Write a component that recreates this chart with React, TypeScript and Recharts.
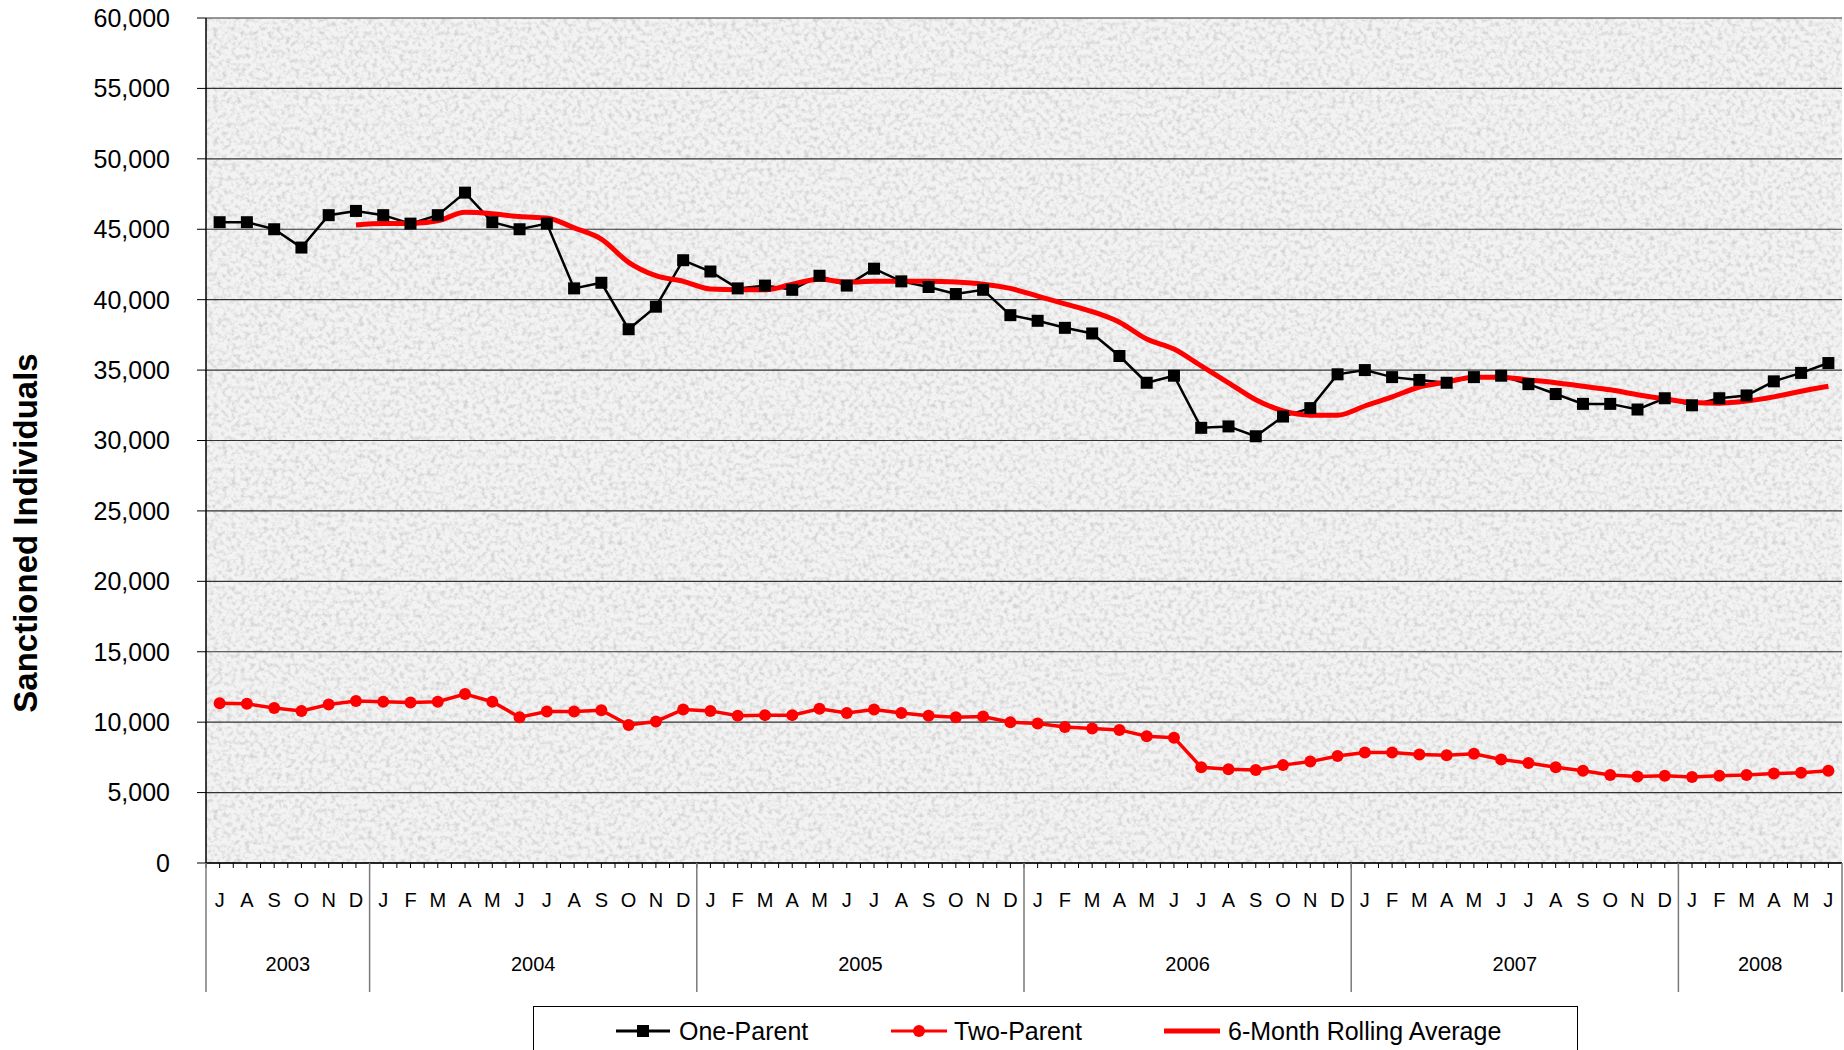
import { CartesianGrid, Line, LineChart, XAxis, YAxis } from "recharts";

const FONT = '"Liberation Sans", Arial, sans-serif';

const CHART_W = 1844;
const CHART_H = 1050;
const PLOT_LEFT = 206;
const PLOT_RIGHT = 1842;
const PLOT_TOP = 18;
const PLOT_BOTTOM = 863;
const BAND = (PLOT_RIGHT - PLOT_LEFT) / 60;

// months run July 2003 .. June 2008
const MONTH_LETTERS = ["J", "F", "M", "A", "M", "J", "J", "A", "S", "O", "N", "D"];
const FIRST_YEAR = 2003;
const FIRST_MONTH = 6;
const MONTH_COUNT = 60;

const Y_TICKS = [0, 5000, 10000, 15000, 20000, 25000, 30000, 35000, 40000, 45000, 50000, 55000, 60000];

const ONE_PARENT = [
  45500, 45500, 45000, 43700, 46000, 46300,
  46000, 45400, 46000, 47600, 45500, 45000, 45400, 40800, 41200, 37900, 39500, 42800,
  42000, 40800, 41000, 40700, 41700, 41000, 42200, 41300, 40900, 40400, 40700, 38900,
  38500, 38000, 37600, 36000, 34100, 34600, 30900, 31000, 30300, 31700, 32300, 34700,
  35000, 34500, 34300, 34100, 34500, 34600, 34000, 33300, 32600, 32600, 32200, 33000,
  32500, 33000, 33200, 34200, 34800, 35500,
];

const TWO_PARENT = [
  11350, 11300, 11000, 10800, 11250, 11500,
  11450, 11400, 11450, 12000, 11450, 10350, 10750, 10750, 10850, 9800, 10050, 10900,
  10800, 10450, 10500, 10500, 10950, 10650, 10900, 10650, 10450, 10350, 10400, 10000,
  9900, 9650, 9550, 9450, 9000, 8900, 6800, 6650, 6600, 6950, 7200, 7600,
  7850, 7850, 7700, 7650, 7750, 7350, 7100, 6800, 6550, 6250, 6150, 6200,
  6100, 6200, 6250, 6350, 6400, 6550,
];

const ROLLING_AVG = [
  null, null, null, null, null, 45300,
  45400, 45400, 45600, 46200, 46100, 45900, 45800, 45100, 44300, 42650, 41700, 41300,
  40750, 40700, 40700, 41100, 41450, 41250, 41300, 41300, 41300, 41250, 41100, 40800,
  40250, 39700, 39150, 38400, 37200, 36500, 35300, 34100, 32900, 32100, 31800, 31800,
  32450, 33100, 33800, 34150, 34500, 34500, 34300, 34100, 33850, 33600, 33250, 32950,
  32700, 32650, 32800, 33100, 33500, 33850,
];

const categories = Array.from({ length: MONTH_COUNT }, (_, i) => {
  const abs = FIRST_MONTH + i;
  return { year: FIRST_YEAR + Math.floor(abs / 12), month: abs % 12 };
});

const data = categories.map((c, i) => ({
  key: `${c.year}-${c.month + 1}`,
  onePar: ONE_PARENT[i],
  twoPar: TWO_PARENT[i],
  avg: ROLLING_AVG[i],
}));

// year label sits on the left edge of the month at the middle of its run
const yearLabelAt: Record<number, number> = {};
for (const y of Array.from(new Set(categories.map((c) => c.year)))) {
  const idx = categories.map((c, i) => (c.year === y ? i : -1)).filter((i) => i >= 0);
  yearLabelAt[idx[0] + idx.length / 2] = y;
}

function MonthTick(props: any) {
  const { x, payload } = props;
  const i: number = payload.index ?? props.index;
  const c = categories[i];
  const left = x - BAND / 2;
  const right = x + BAND / 2;
  const last = i === MONTH_COUNT - 1;
  return (
    <g>
      <line x1={left} x2={left} y1={PLOT_BOTTOM} y2={PLOT_BOTTOM + 5} stroke="#000" />
      <line x1={x} x2={x} y1={PLOT_BOTTOM} y2={PLOT_BOTTOM + 5} stroke="#000" />
      {(i === 0 || c.month === 0) && (
        <line x1={left} x2={left} y1={PLOT_BOTTOM} y2={992} stroke="#7a7a7a" strokeWidth={1.5} />
      )}
      {last && <line x1={right} x2={right} y1={PLOT_BOTTOM} y2={992} stroke="#7a7a7a" strokeWidth={1.5} />}
      <text x={x} y={900} textAnchor="middle" dominantBaseline="central" fontSize={20} fontFamily={FONT} fill="#000">
        {MONTH_LETTERS[c.month]}
      </text>
      {yearLabelAt[i] !== undefined && (
        <text x={left} y={964} textAnchor="middle" dominantBaseline="central" fontSize={20} fontFamily={FONT} fill="#000">
          {yearLabelAt[i]}
        </text>
      )}
    </g>
  );
}

function SquareDot(props: any) {
  const { cx, cy, index } = props;
  if (cx == null || cy == null) return <g key={index} />;
  return <rect key={index} x={cx - 6} y={cy - 6} width={12} height={12} fill="#000" />;
}

function Legend() {
  const midY = 25;
  return (
    <div
      style={{
        position: "absolute",
        left: 533,
        top: 1006,
        width: 1045,
        height: 70,
        border: "1px solid #000",
        background: "#fff",
        boxSizing: "border-box",
      }}
    >
      <svg width={1045} height={70} style={{ position: "absolute", left: -1, top: -1 }}>
        <line x1={83} x2={137} y1={midY} y2={midY} stroke="#000" strokeWidth={3} />
        <rect x={104} y={midY - 6} width={12} height={12} fill="#000" />
        <text x={146} y={midY} dominantBaseline="central" fontSize={25} fontFamily={FONT} fill="#000">
          One-Parent
        </text>
        <line x1={358} x2={414} y1={midY} y2={midY} stroke="#ff0000" strokeWidth={3} />
        <circle cx={386} cy={midY} r={6} fill="#ff0000" />
        <text x={421} y={midY} dominantBaseline="central" fontSize={25} fontFamily={FONT} fill="#000">
          Two-Parent
        </text>
        <line x1={631} x2={687} y1={midY} y2={midY} stroke="#ff0000" strokeWidth={5} />
        <text x={695} y={midY} dominantBaseline="central" fontSize={25} fontFamily={FONT} fill="#000">
          6-Month Rolling Average
        </text>
      </svg>
    </div>
  );
}

export default function App() {
  return (
    <div
      style={{
        position: "absolute",
        left: 0,
        top: 0,
        width: CHART_W,
        height: CHART_H,
        overflow: "hidden",
        background: "#fff",
        fontFamily: FONT,
      }}
    >
      <svg width={0} height={0} style={{ position: "absolute" }}>
        <defs>
          <filter id="grain" x="0" y="0" width="100%" height="100%">
            <feTurbulence type="fractalNoise" baseFrequency="0.22" numOctaves={3} seed={7} />
            <feColorMatrix
              type="matrix"
              values="0 0 0 0 0.45  0 0 0 0 0.45  0 0 0 0 0.45  2.4 0 0 0 -1.05"
            />
          </filter>
          <pattern id="paper" patternUnits="userSpaceOnUse" width={CHART_W} height={CHART_H}>
            <rect width={CHART_W} height={CHART_H} fill="#f3f3f3" />
            <rect width={CHART_W} height={CHART_H} fill="#fff" filter="url(#grain)" opacity={0.55} />
          </pattern>
        </defs>
      </svg>

      <LineChart width={CHART_W} height={CHART_H} data={data} margin={{ top: PLOT_TOP, right: CHART_W - PLOT_RIGHT, bottom: 0, left: 0 }}>
        <CartesianGrid vertical={false} stroke="#333" strokeWidth={1.2} fill="url(#paper)" />
        <XAxis
          dataKey="key"
          interval={0}
          height={CHART_H - PLOT_BOTTOM}
          padding={{ left: BAND / 2, right: BAND / 2 }}
          axisLine={{ stroke: "#000", strokeWidth: 1.5 }}
          tickLine={false}
          tick={<MonthTick />}
        />
        <YAxis
          width={PLOT_LEFT}
          domain={[0, 60000]}
          ticks={Y_TICKS}
          interval={0}
          tickSize={9}
          tickMargin={27}
          axisLine={{ stroke: "#000", strokeWidth: 1.5 }}
          tickLine={{ stroke: "#000" }}
          tick={{ fill: "#000", fontSize: 25, fontFamily: FONT }}
          tickFormatter={(v: number) => v.toLocaleString("en-US")}
        />
        <Line
          dataKey="onePar"
          stroke="#000"
          strokeWidth={2.5}
          dot={SquareDot}
          activeDot={false}
          isAnimationActive={false}
        />
        <Line
          dataKey="twoPar"
          stroke="#ff0000"
          strokeWidth={3.5}
          dot={{ r: 6, fill: "#ff0000", stroke: "#ff0000", strokeWidth: 0 }}
          activeDot={false}
          isAnimationActive={false}
        />
        <Line
          dataKey="avg"
          type="monotone"
          stroke="#ff0000"
          strokeWidth={5}
          dot={false}
          activeDot={false}
          isAnimationActive={false}
        />
      </LineChart>

      <div
        style={{
          position: "absolute",
          left: 26,
          top: 533,
          transform: "translate(-50%, -50%) rotate(-90deg)",
          whiteSpace: "nowrap",
          fontSize: 33,
          fontWeight: "bold",
          color: "#000",
        }}
      >
        Sanctioned Individuals
      </div>

      <Legend />
    </div>
  );
}
